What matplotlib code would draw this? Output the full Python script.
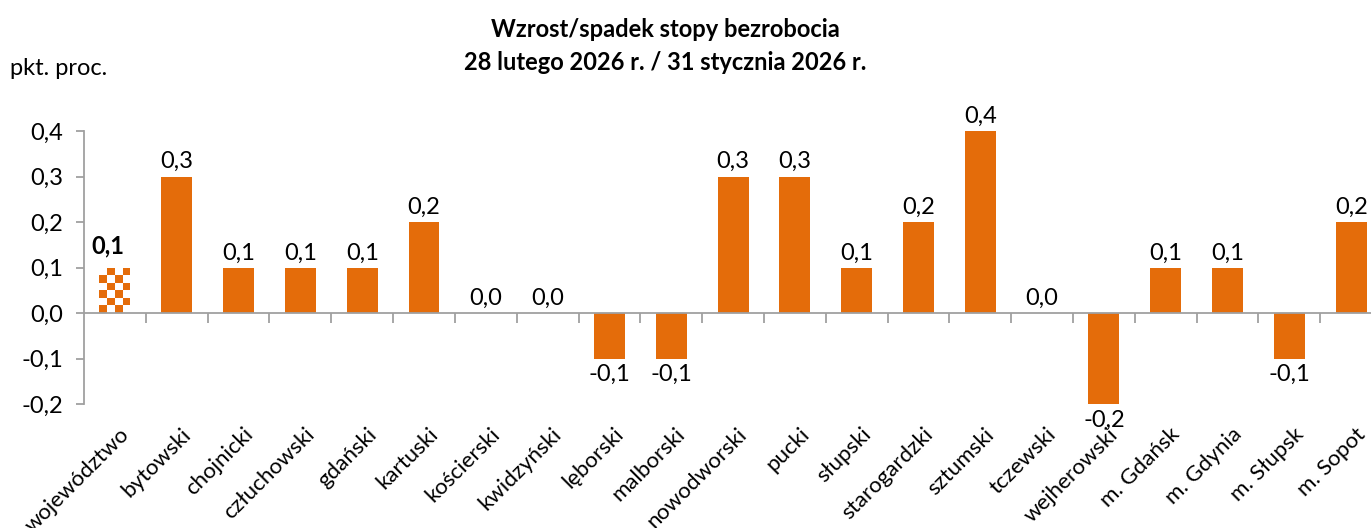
import matplotlib.pyplot as plt
import matplotlib.transforms as mtransforms
from matplotlib.patches import Rectangle
import numpy as np

plt.rcParams['font.family'] = ['Lato', 'DejaVu Sans']

kategorie = ['województwo', 'bytowski', 'chojnicki', 'człuchowski', 'gdański',
             'kartuski', 'kościerski', 'kwidzyński', 'lęborski', 'malborski',
             'nowodworski', 'pucki', 'słupski', 'starogardzki', 'sztumski',
             'tczewski', 'wejherowski', 'm. Gdańsk', 'm. Gdynia', 'm. Słupsk',
             'm. Sopot']
zmiana = [0.1, 0.3, 0.1, 0.1, 0.1, 0.2, 0.0, 0.0, -0.1, -0.1,
          0.3, 0.3, 0.1, 0.2, 0.4, 0.0, -0.2, 0.1, 0.1, -0.1, 0.2]
y_ticks = [-0.2, -0.1, 0.0, 0.1, 0.2, 0.3, 0.4]

kolor = '#E46C0A'
szary = '#A0A0A0'

fig = plt.figure(figsize=(13.71, 5.28), dpi=100)
ax = fig.add_axes([0.0613, 0.2348, 0.9468, 0.5171])

x = np.arange(len(kategorie))
szer = 0.5

# powiaty - zwykle slupki, wojewodztwo - szachownica
for i, v in enumerate(zmiana):
    if i == 0:
        ncol, nrow = 4, 6
        dx = szer / ncol
        dy = v / nrow
        for r in range(nrow):
            for c in range(ncol):
                if (r + c) % 2 == 1:
                    ax.add_patch(Rectangle((x[i] - szer / 2 + c * dx, v - (r + 1) * dy),
                                           dx, dy, color=kolor, lw=0))
    else:
        ax.bar(x[i], v, width=szer, color=kolor, zorder=2)

# etykiety danych
for i, v in enumerate(zmiana):
    txt = f'{v:.1f}'.replace('.', ',')
    if i == 0:
        ax.annotate(txt, (x[i], v), xytext=(-5, 7), textcoords='offset points',
                    ha='center', va='bottom', fontsize=17, fontweight='bold')
    elif v >= 0:
        ax.annotate(txt, (x[i], v), xytext=(0, 3), textcoords='offset points',
                    ha='center', va='bottom', fontsize=17)
    else:
        ax.annotate(txt, (x[i], v), xytext=(0, -4), textcoords='offset points',
                    ha='center', va='top', fontsize=17)

ax.set_xlim(-0.5, len(kategorie) - 0.5)
ax.set_ylim(-0.2, 0.4)
ax.set_yticks(y_ticks)
ax.set_yticklabels([f'{t:.1f}'.replace('.', ',') for t in y_ticks], fontsize=17)

ax.spines['top'].set_visible(False)
ax.spines['right'].set_visible(False)
ax.spines['bottom'].set_position(('data', 0))
for s in ['left', 'bottom']:
    ax.spines[s].set_color(szary)
    ax.spines[s].set_linewidth(1.3)

ax.tick_params(axis='y', length=6, color=szary, width=1.3, pad=9)

# kreski miedzy kategoriami, podpisy pod wykresem
ax.set_xticks(x[:-1] + 0.5, minor=True)
ax.tick_params(axis='x', which='minor', length=7, color=szary, width=1.3, direction='out')
ax.set_xticks(x)
ax.set_xticklabels(kategorie, rotation=45, ha='right', rotation_mode='anchor', fontsize=16)
ax.tick_params(axis='x', which='major', length=0, pad=80)
przes = mtransforms.ScaledTranslation(4 / 100, 0, fig.dpi_scale_trans)
for lab in ax.get_xticklabels():
    lab.set_transform(lab.get_transform() + przes)

fig.text(0.485, 0.965, 'Wzrost/spadek stopy bezrobocia\n28 lutego 2026 r. / 31 stycznia 2026 r.',
         ha='center', va='top', fontsize=17, fontweight='bold', linespacing=1.5)
fig.text(0.007, 0.87, 'pkt. proc.', ha='left', va='center', fontsize=17)

fig.savefig('out.png', dpi=100)
